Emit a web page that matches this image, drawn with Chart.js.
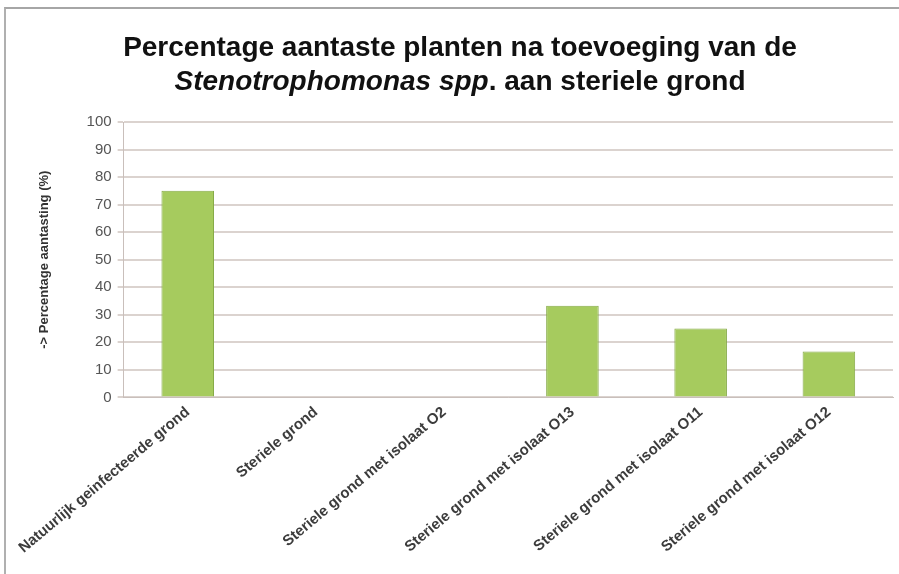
<!DOCTYPE html>
<html>
  <head>
    <script src="https://cdn.jsdelivr.net/npm/chart.js@4.4.1/dist/chart.umd.min.js"></script>
    <style>
      body { margin: 0; background: #fff; }
      #frame {
        position: absolute; left: 4px; top: 7px; width: 895px; height: 567px;
        border-top: 2px solid #a6a6a6; border-left: 2px solid #b0b0b0;
      }
      #title {
        position: absolute; left: 0; top: 30px; width: 920px; text-align: center;
        font-family: 'Liberation Sans', Arial, sans-serif; font-weight: bold;
        font-size: 28px; line-height: 34px; color: #111;
      }
      #wrap { position: absolute; left: 0; top: 0; width: 899px; height: 574px; }
    </style>
  </head>

  <body>
    <div id="frame"></div>
    <div id="wrap">
      <canvas id="canvas" width="899" height="574"></canvas>
    </div>
    <div id="title">Percentage aantaste planten na toevoeging van de<br><i>Stenotrophomonas spp</i>. aan steriele grond</div>
    <script>
      const categories = [
        'Natuurlijk geinfecteerde grond',
        'Steriele grond',
        'Steriele grond met isolaat O2',
        'Steriele grond met isolaat O13',
        'Steriele grond met isolaat O11',
        'Steriele grond met isolaat O12',
      ];
      const aantasting = [75, 0, 0, 33.3, 25, 16.7];
      const yTicks = [0, 10, 20, 30, 40, 50, 60, 70, 80, 90, 100];

      const chart = new Chart(document.getElementById('canvas').getContext('2d'), {
        type: 'bar',
        data: {
          labels: categories,
          datasets: [
            {
              data: aantasting,
              backgroundColor: '#a6cb5e',
              borderColor: '#86aa48',
              borderWidth: 1,
              barPercentage: 0.41,
              categoryPercentage: 1,
            },
          ],
        },
        options: {
          responsive: false,
          animation: false,
          layout: {
            padding: { top: 122, left: 30, right: 6, bottom: 11 },
          },
          plugins: {
            legend: { display: false },
            tooltip: { enabled: false },
          },
          scales: {
            x: {
              grid: { display: false, drawTicks: false },
              border: { color: '#c9bfbb' },
              ticks: {
                minRotation: 40,
                maxRotation: 40,
                autoSkip: false,
                padding: 6,
                color: '#3c3c3c',
                font: { family: 'Liberation Sans', size: 15, weight: 'bold' },
              },
            },
            y: {
              min: 0,
              max: 100,
              afterBuildTicks: (axis) => {
                axis.ticks = yTicks.map((v) => ({ value: v }));
              },
              grid: { color: '#dbd3cf', lineWidth: 2, tickLength: 6 },
              border: { color: '#c9bfbb' },
              ticks: {
                color: '#555',
                padding: 6,
                font: { family: 'Liberation Sans', size: 15 },
              },
              title: {
                display: true,
                text: '-> Percentage aantasting (%)',
                color: '#333',
                padding: { top: 7, bottom: 28 },
                font: { family: 'Liberation Sans', size: 13, weight: 'bold' },
              },
            },
          },
        },
      });
    </script>
  </body>
</html>
